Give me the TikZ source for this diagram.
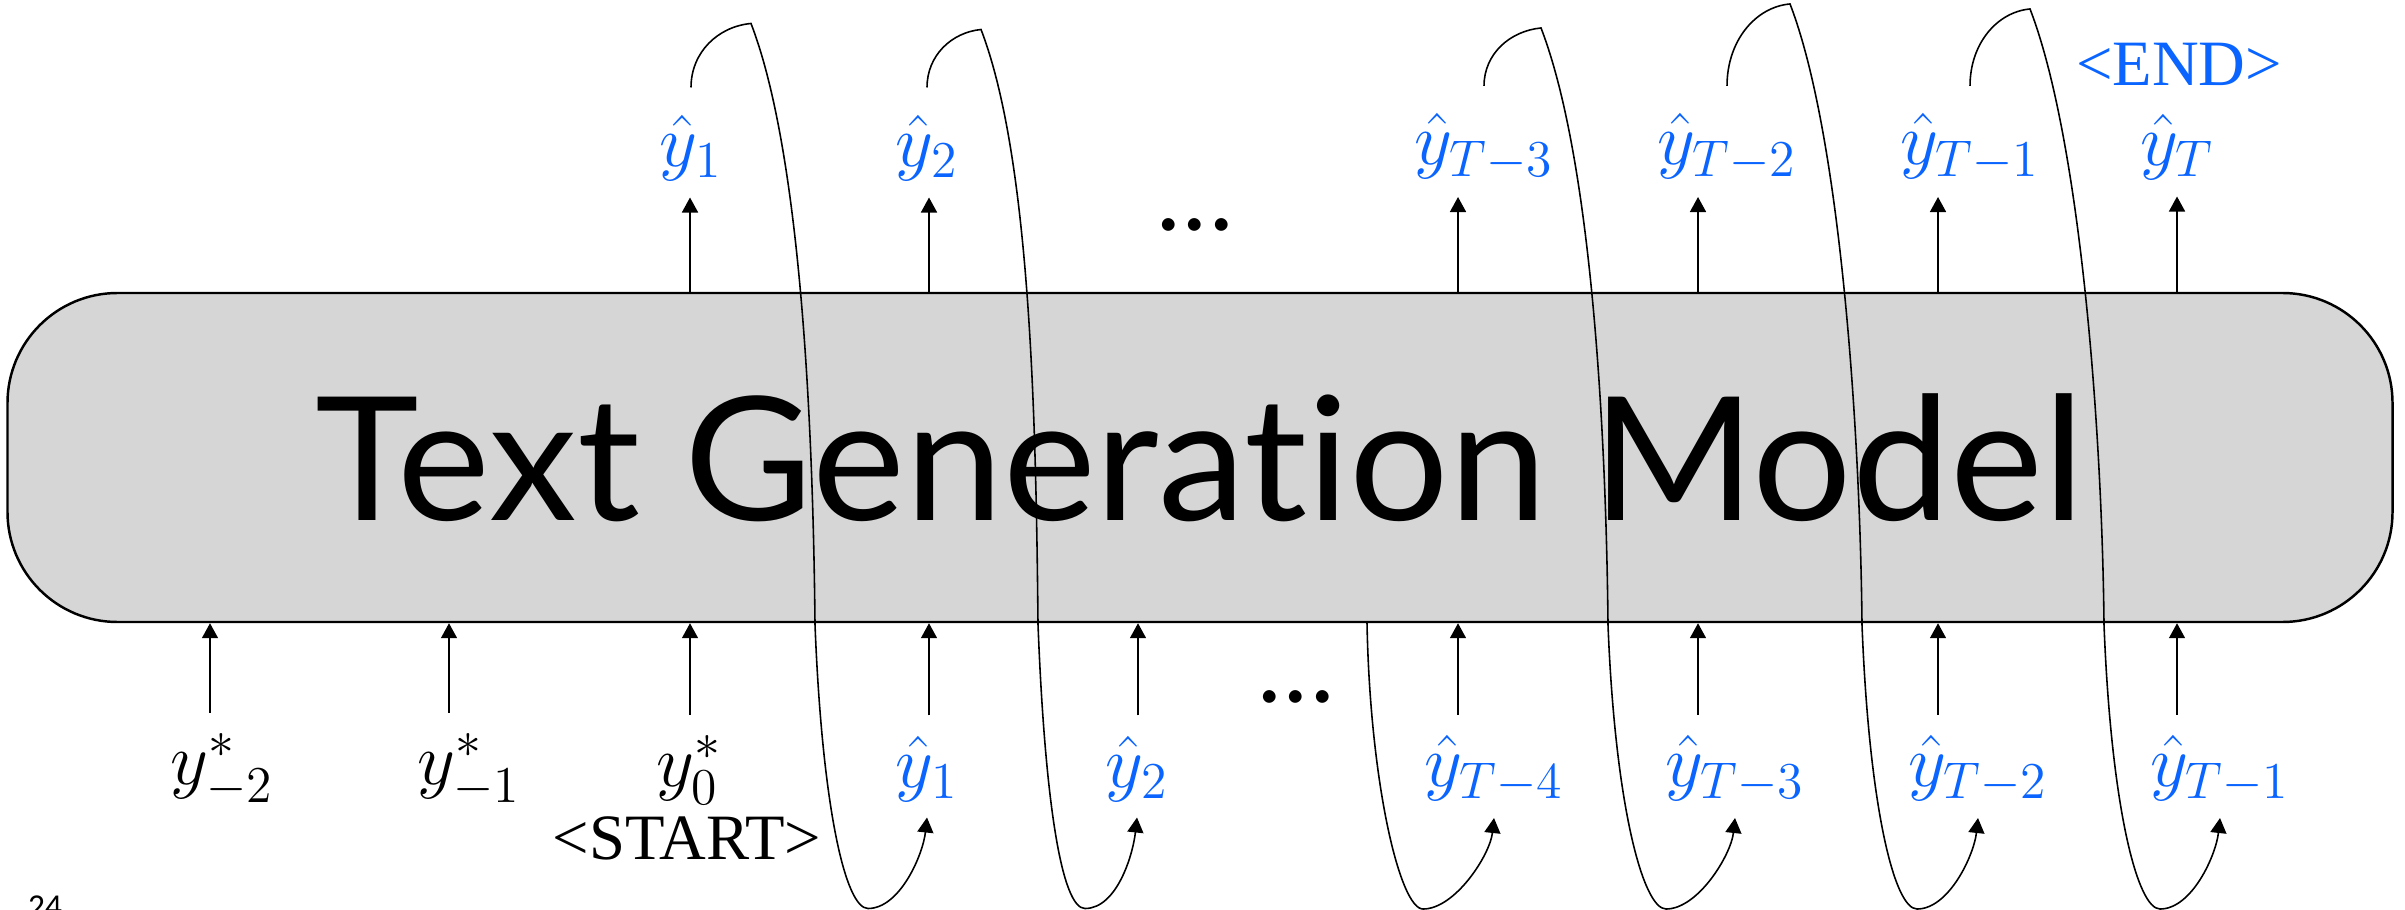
\RequirePackage{fix-cm}
\documentclass[tikz,border=0pt]{standalone}
\usepackage{fontspec}
\newfontfamily\titlefont[Ligatures=NoCommon, FakeStretch=1.02]{Lato}
\newfontfamily\tokenfont{Liberation Serif}
\newfontfamily\slidefont{Carlito}
\usetikzlibrary{arrows.meta,calc}
\definecolor{predblue}{RGB}{10,100,255}
\definecolor{modelgray}{RGB}{214,214,214}
\tikzset{
  uparrow/.style={-{Triangle[width=1.6mm,length=1.5mm]}, line width=0.45pt},
  looparrow/.style={-{Triangle[width=1.6mm,length=1.5mm]}, line width=0.45pt},
  modelbox/.style={draw, line width=0.7pt, fill=modelgray, rounded corners=1.1cm, minimum width=23.85cm, minimum height=3.29cm, inner sep=0pt, font=\titlefont\fontsize{49}{56}\selectfont},
  predlabel/.style={text=predblue, inner sep=0pt, font=\fontsize{21}{24}\selectfont},
  goldlabel/.style={inner sep=0pt, font=\fontsize{21}{24}\selectfont},
  tokenlabel/.style={inner sep=0pt, font=\tokenfont\fontsize{18.4}{21}\selectfont},
  dotslabel/.style={inner sep=0pt, font=\slidefont\fontsize{30}{32}\selectfont},
  pagenum/.style={inner sep=0pt, anchor=north, font=\slidefont\fontsize{9.5}{11}\selectfont}
}

\begin{document}
\begin{tikzpicture}
  \useasboundingbox (0,0) rectangle (24.05,9.09);
  \node[modelbox] (box) at (12.0,4.515) {Text Generation Model};

  \foreach \n/\x in {1/2.10, 2/4.49, 3/6.90, 4/9.29, 5/11.38, 6/14.58, 7/16.98, 8/19.38, 9/21.77}
    \coordinate (c\n) at (\x,0);

  \node[predlabel] (ot1) at (6.91,7.61) {$\hat{y}_1$};
  \node[predlabel] (ot2) at (9.27,7.61) {$\hat{y}_2$};
  \node[predlabel] (ot3) at (14.84,7.62) {$\hat{y}_{T-3}$};
  \node[predlabel] (ot4) at (17.27,7.62) {$\hat{y}_{T-2}$};
  \node[predlabel] (ot5) at (19.70,7.62) {$\hat{y}_{T-1}$};
  \node[predlabel] (ot6) at (21.77,7.62) {$\hat{y}_T$};
  \node[tokenlabel, text=predblue] (endtok) at (21.79,8.45) {<END>};
  \node[dotslabel] (tdots) at (11.95,6.84) {...};

  \node[goldlabel] (g1) at (2.22,1.39) {$y^*_{-2}$};
  \node[goldlabel] (g2) at (4.69,1.39) {$y^*_{-1}$};
  \node[goldlabel] (g3) at (6.89,1.39) {$y^*_0$};
  \node[tokenlabel] (starttok) at (6.87,0.71) {<START>};
  \node[predlabel] (ib1) at (9.27,1.40) {$\hat{y}_1$};
  \node[predlabel] (ib2) at (11.37,1.40) {$\hat{y}_2$};
  \node[predlabel] (ib3) at (14.94,1.40) {$\hat{y}_{T-4}$};
  \node[predlabel] (ib4) at (17.35,1.40) {$\hat{y}_{T-3}$};
  \node[predlabel] (ib5) at (19.78,1.40) {$\hat{y}_{T-2}$};
  \node[predlabel] (ib6) at (22.20,1.40) {$\hat{y}_{T-1}$};
  \node[dotslabel] (bdots) at (12.96,2.12) {...};
  \node[pagenum] (pg) at (0.45,0.14) {24};

  \foreach \c/\l in {c3/ot1, c4/ot2, c6/ot3, c7/ot4, c8/ot5, c9/ot6}
    \draw[uparrow] (box.north -| \c) -- ([yshift=-0.16cm]\l.south -| \c);
  \foreach \c/\l in {c1/g1, c2/g2, c3/g3, c4/ib1, c5/ib2, c6/ib3, c7/ib4, c8/ib5, c9/ib6}
    \draw[uparrow] ([yshift=0.2cm]\l.north -| \c) -- (box.south -| \c);

  \foreach \src/\dst/\px/\py/\dx/\bx in {ot1/ib1/0.60/0.64/-1.12/-0.59, ot2/ib2/0.54/0.58/-0.99/-0.52, ot3/ib4/0.57/0.58/-1.27/-0.69, ot4/ib5/0.63/0.82/-1.16/-0.61, ot5/ib6/0.60/0.77/-1.16/-0.60}
    \draw[looparrow] ([yshift=0.27cm]\src.north) .. controls +(0,0.55*\py) and +(-0.55*\px,-0.03) .. ++(\px,\py)
      .. controls +(0.50,-1.30) and +(-0.02,2.00) .. ($(\dst.south)+(\dx,1.78)$)
      .. controls +(0.07,-1.80) and +(-0.23,0) .. ($(\dst.south)+(\bx,-1.06)$)
      .. controls +(0.32,0) and +(-0.04,-0.37) .. ([yshift=-0.15cm]\dst.south);
  \draw[looparrow] ($(box.south -| ib3.south)+(-1.27,0)$) .. controls +(0.03,-1.60) and +(-0.23,0) .. ($(ib3.south)+(-0.71,-1.06)$)
    .. controls +(0.32,0) and +(-0.04,-0.37) .. ([yshift=-0.15cm]ib3.south);
\end{tikzpicture}
\end{document}
